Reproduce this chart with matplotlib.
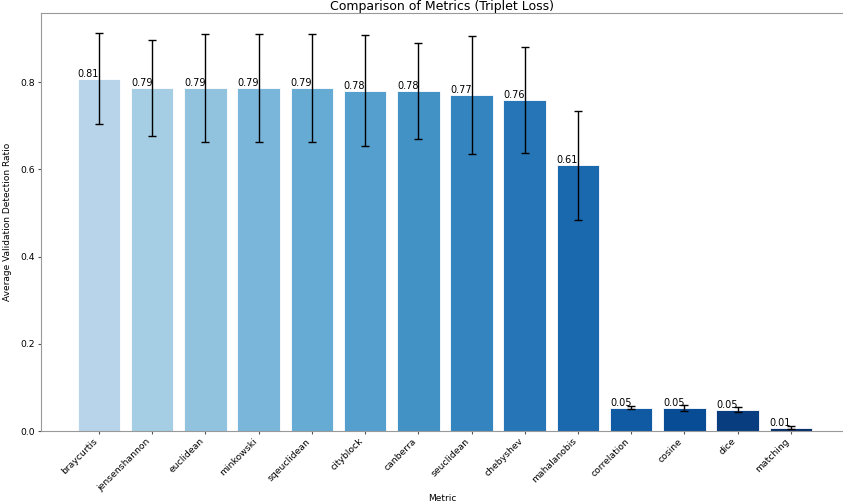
import matplotlib
matplotlib.use('Agg')
import matplotlib.pyplot as plt
import numpy as np

metrics = ['braycurtis', 'jensenshannon', 'euclidean', 'minkowski', 'sqeuclidean',
           'cityblock', 'canberra', 'seuclidean', 'chebyshev', 'mahalanobis',
           'correlation', 'cosine', 'dice', 'matching']
means = [0.808, 0.786, 0.786, 0.786, 0.786, 0.780, 0.779, 0.770, 0.759, 0.609,
         0.054, 0.053, 0.049, 0.0076]
stds = [0.104, 0.110, 0.124, 0.124, 0.124, 0.127, 0.110, 0.135, 0.121, 0.125,
        0.004, 0.006, 0.006, 0.003]

colors = plt.cm.Blues(np.linspace(0.3, 1.0, len(metrics)))

fig = plt.figure(figsize=(8.43, 5.03), dpi=100)
ax = fig.add_axes([0.0486, 0.143, 0.9514, 0.831])

x = np.arange(len(metrics))
ax.bar(x, means, width=0.8, color=colors, edgecolor='white', linewidth=0.6,
       yerr=stds, capsize=3, error_kw={'elinewidth': 1, 'ecolor': 'black', 'capthick': 1})

# value labels on top-left of each bar
for xi, m in zip(x, means):
    ax.text(xi - 0.4, m, '{:.2f}'.format(m), ha='left', va='bottom', fontsize=7)

ax.set_xlim(-1.09, 13.98)
ax.set_ylim(0, 0.958)
ax.set_xticks(x)
ax.set_xticklabels(metrics, rotation=45, ha='right', fontsize=6.7)
ax.set_yticks([0.0, 0.2, 0.4, 0.6, 0.8])
ax.tick_params(axis='y', labelsize=6.7, colors='#555555', labelcolor='black',
               length=2.5, pad=1.5)
ax.tick_params(axis='x', colors='#555555', labelcolor='black', length=2.5, pad=1.5)
ax.set_xlabel('Metric', fontsize=6.5, labelpad=1)
ax.set_ylabel('Average Validation Detection Ratio', fontsize=6.5, labelpad=6)
ax.set_title('Comparison of Metrics (Triplet Loss)', fontsize=9, pad=0)

for side in ['left', 'top', 'bottom']:
    ax.spines[side].set_color('#999999')
ax.spines['right'].set_visible(False)

plt.savefig('out.png', dpi=100)
